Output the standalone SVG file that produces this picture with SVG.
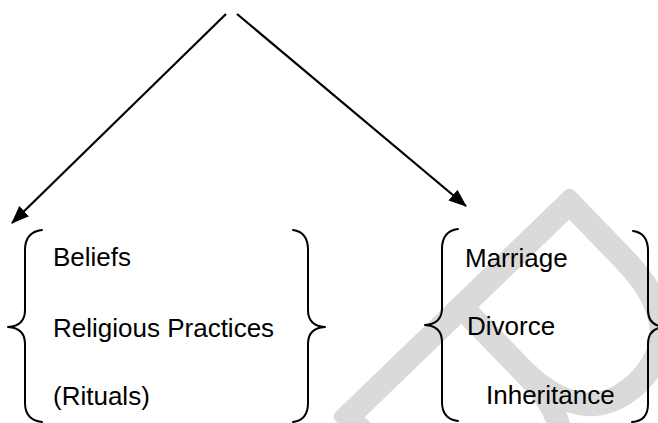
<svg xmlns="http://www.w3.org/2000/svg" width="658" height="423" viewBox="0 0 658 423">
  <style>
    .label { font-family: "Liberation Sans", Arial, sans-serif; font-size: 26px; fill: #000; }
    .brace { fill: none; stroke: #000; stroke-width: 2; stroke-linecap: round; stroke-linejoin: round; }
    .conn { fill: none; stroke: #000; stroke-width: 2.2; }
    .mark { font-family: Roboto, "Liberation Sans", sans-serif; font-weight: 100; font-size: 450px; fill: #dadada; stroke: #dadada; stroke-width: 12; stroke-linejoin: round; stroke-linecap: round; }
  </style>
  <defs>
    <marker id="head" markerUnits="userSpaceOnUse" markerWidth="20" markerHeight="16" refX="17" refY="7" orient="auto">
      <path d="M0,0 L18,7 L0,14 Z" fill="#000"/>
    </marker>
  </defs>
  <rect width="658" height="423" fill="#fff"/>

  <!-- background watermark -->
  <text class="mark" transform="translate(309,385) rotate(46)">B</text>

  <!-- connectors -->
  <g id="connectors">
    <line class="conn" x1="226" y1="14" x2="12" y2="223" marker-end="url(#head)"/>
    <line class="conn" x1="237" y1="14" x2="466" y2="206" marker-end="url(#head)"/>
  </g>

  <!-- left group -->
  <g id="religious-group">
    <path class="brace" d="M42,230 Q25,232 25,250 L25,310 Q25,326 8,327 Q25,328 25,344 L25,403 Q25,420 42,422"/>
    <path class="brace" d="M293,230 Q308,232 308,250 L308,310 Q308,326 325,327 Q308,328 308,344 L308,403 Q308,420 293,422"/>
    <text class="label" x="53" y="266">Beliefs</text>
    <text class="label" x="53" y="337">Religious Practices</text>
    <text class="label" x="53" y="405">(Rituals)</text>
  </g>

  <!-- right group -->
  <g id="personal-group">
    <path class="brace" d="M458,229 Q442,231 442,249 L442,308 Q442,324 425,325 Q442,326 442,342 L442,402 Q442,419 458,421"/>
    <path class="brace" d="M633,231 Q648,233 648,251 L648,310 Q648,326 665,327 Q648,328 648,344 L648,404 Q648,421 632,422"/>
    <text class="label" x="465" y="267">Marriage</text>
    <text class="label" x="467" y="335">Divorce</text>
    <text class="label" x="486" y="404">Inheritance</text>
  </g>
</svg>
